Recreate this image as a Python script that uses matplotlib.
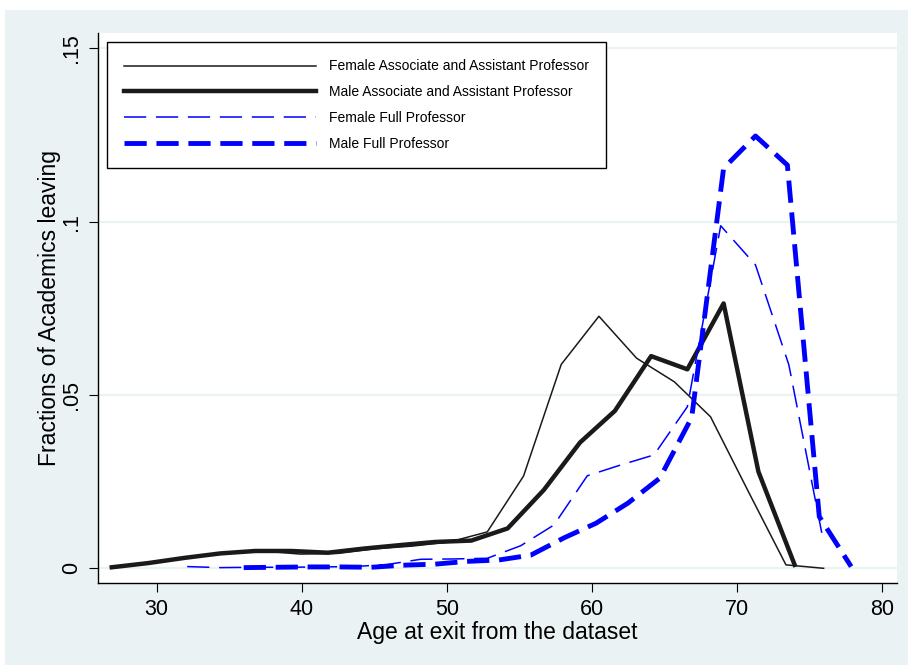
import matplotlib
matplotlib.use('Agg')
import matplotlib.pyplot as plt
from matplotlib.patches import Rectangle

plt.rcParams['font.family'] = ['Liberation Sans', 'DejaVu Sans']
plt.rcParams['lines.scale_dashes'] = False

# exit ages (bin centres) and fraction leaving, per group
age_fem_assoc = [27.0, 29.6, 32.2, 34.7, 37.3, 39.9, 42.5, 45.0, 47.6, 50.2,
                 52.8, 55.3, 57.9, 60.5, 63.1, 65.7, 68.2, 70.8, 73.4, 76.0]
fem_assoc = [0.0003, 0.0015, 0.0032, 0.0044, 0.0050, 0.0041, 0.0043, 0.0056, 0.0064, 0.0076,
             0.0105, 0.0266, 0.0588, 0.0727, 0.0606, 0.0538, 0.0437, 0.0222, 0.0010, 0.0000]

age_male_assoc = [26.9, 29.4, 31.9, 34.4, 36.8, 39.3, 41.8, 44.3, 46.8, 49.2,
                  51.7, 54.2, 56.7, 59.2, 61.6, 64.1, 66.6, 69.1, 71.5, 74.0]
male_assoc = [0.0003, 0.0015, 0.0030, 0.0043, 0.0050, 0.0050, 0.0045, 0.0057, 0.0067, 0.0076,
              0.0080, 0.0115, 0.0226, 0.0363, 0.0454, 0.0612, 0.0574, 0.0764, 0.0279, 0.0010]

age_fem_full = [32.1, 34.4, 36.7, 39.0, 41.3, 43.6, 45.9, 48.2, 50.5, 52.8,
                55.1, 57.4, 59.7, 62.0, 64.3, 66.6, 68.9, 71.3, 73.6, 75.9]
fem_full = [0.0005, 0.0002, 0.0003, 0.0003, 0.0004, 0.0005, 0.0011, 0.0026, 0.0027, 0.0029,
            0.0065, 0.0125, 0.0267, 0.0298, 0.0327, 0.0466, 0.0988, 0.0875, 0.0587, 0.0096]

age_male_full = [36.0, 38.2, 40.4, 42.6, 44.8, 47.0, 49.2, 51.4, 53.6, 55.8,
                 58.1, 60.3, 62.5, 64.7, 66.9, 69.1, 71.3, 73.5, 75.7, 77.9]
male_full = [0.0002, 0.0003, 0.0004, 0.0004, 0.0003, 0.0009, 0.0012, 0.0020, 0.0024, 0.0038,
             0.0088, 0.0130, 0.0188, 0.0260, 0.0435, 0.1154, 0.1247, 0.1163, 0.0149, 0.0005]

labels = ['Female Associate and Assistant Professor',
          'Male Associate and Assistant Professor',
          'Female Full Professor',
          'Male Full Professor']

x_ticks = [30, 40, 50, 60, 70, 80]
y_ticks = [0, 0.05, 0.1, 0.15]
y_ticklabels = ['0', '.05', '.1', '.15']

bg = '#eaf2f3'
fig = plt.figure(figsize=(9.08, 6.66), dpi=100, facecolor='white')
fig.patches.append(Rectangle((5 / 908, 1 / 666), 903 / 908, 655 / 666,
                             transform=fig.transFigure, facecolor=bg,
                             edgecolor='none', zorder=-10))
ax = fig.add_axes([98 / 908, 83.3 / 666, 799 / 908, 549.7 / 666])
ax.set_facecolor('white')

ax.plot(age_fem_assoc, fem_assoc, color='#1a1a1a', lw=1.1, label=labels[0])
ax.plot(age_male_assoc, male_assoc, color='#1a1a1a', lw=3.2, label=labels[1])
ax.plot(age_fem_full, fem_full, color='#0000ff', lw=1.1, dashes=(16, 7), label=labels[2])
ax.plot(age_male_full, male_full, color='#0000ff', lw=3.5, dashes=(16, 7), label=labels[3])

ax.set_xlim(25.95, 81.06)
ax.set_ylim(-0.00415, 0.1544)
ax.set_xticks(x_ticks)
ax.set_yticks(y_ticks)
ax.set_yticklabels(y_ticklabels, rotation=90, va='center')
ax.tick_params(axis='both', labelsize=15.5, length=6.5, width=0.8, pad=5)
ax.grid(axis='y', color=bg, lw=1.6)
ax.set_axisbelow(True)

for side in ['top', 'right']:
    ax.spines[side].set_visible(False)
for side in ['left', 'bottom']:
    ax.spines[side].set_linewidth(1.0)

ax.set_xlabel('Age at exit from the dataset', fontsize=16.5, labelpad=1)
ax.set_ylabel('Fractions of Academics leaving', fontsize=16.5, labelpad=0)

leg = ax.legend(loc='upper left', bbox_to_anchor=(0.0113, 0.9836), fontsize=10,
                handlelength=13.8, handletextpad=0.94, labelspacing=0.85,
                borderpad=1.25, borderaxespad=0, fancybox=False, framealpha=1,
                edgecolor='black')
leg.get_frame().set_linewidth(1.0)
for t in leg.get_texts():
    t.set_family(['Liberation Sans Narrow', 'Liberation Sans', 'DejaVu Sans'])

fig.savefig('out.png', dpi=100)
